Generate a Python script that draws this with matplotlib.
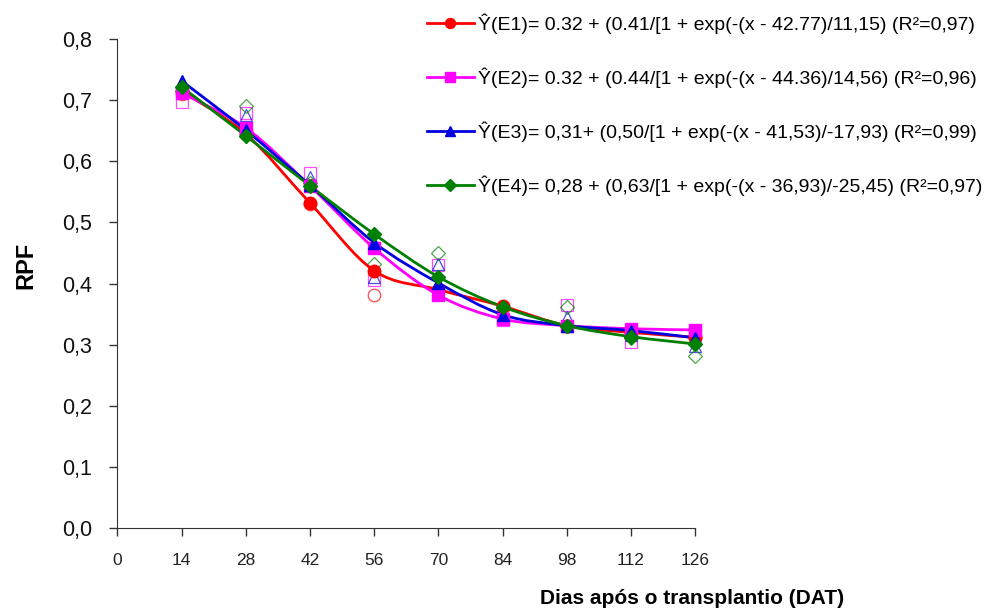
import numpy as np
import matplotlib.pyplot as plt
from matplotlib.path import Path
from matplotlib.patches import PathPatch
from matplotlib.lines import Line2D

plt.rcParams['font.family'] = ['Liberation Sans', 'DejaVu Sans']

# days after transplanting
dat = [14, 28, 42, 56, 70, 84, 98, 112, 126]
xticks = [0, 14, 28, 42, 56, 70, 84, 98, 112, 126]

# fitted values (filled markers, smooth lines)
e1_fit = [0.715, 0.645, 0.532, 0.421, 0.390, 0.363, 0.331, 0.320, 0.312]
e2_fit = [0.712, 0.655, 0.560, 0.458, 0.381, 0.342, 0.331, 0.326, 0.324]
e3_fit = [0.732, 0.651, 0.561, 0.467, 0.401, 0.349, 0.331, 0.323, 0.311]
e4_fit = [0.722, 0.642, 0.560, 0.481, 0.411, 0.362, 0.331, 0.313, 0.301]

# observed values (hollow markers)
e1_obs = [0.710, 0.650, 0.530, 0.381, 0.390, 0.360, 0.330, 0.318, 0.310]
e2_obs = [0.698, 0.679, 0.581, 0.406, 0.430, 0.340, 0.365, 0.305, 0.320]
e3_obs = [0.725, 0.676, 0.575, 0.410, 0.432, 0.348, 0.345, 0.315, 0.297]
e4_obs = [0.715, 0.690, 0.565, 0.432, 0.450, 0.360, 0.362, 0.310, 0.282]

labels = [
    'Ŷ(E1)= 0.32 + (0.41/[1 + exp(-(x - 42.77)/11,15) (R²=0,97)',
    'Ŷ(E2)= 0.32 + (0.44/[1 + exp(-(x - 44.36)/14,56) (R²=0,96)',
    'Ŷ(E3)= 0,31+ (0,50/[1 + exp(-(x - 41,53)/-17,93) (R²=0,99)',
    'Ŷ(E4)= 0,28 + (0,63/[1 + exp(-(x - 36,93)/-25,45) (R²=0,97)',
]
colors = ['#ff0000', '#ff00ff', '#0000e0', '#008000']
markers = ['o', 's', '^', 'D']
msizes = [9, 9, 9, 7.5]


def smooth_path(x, y):
    # Excel-like smoothed line: cubic Bezier segments through the points
    pts = np.column_stack([x, y]).astype(float)
    n = len(pts)
    verts = [pts[0]]
    codes = [Path.MOVETO]
    for i in range(n - 1):
        p0 = pts[i - 1] if i > 0 else pts[i]
        p1 = pts[i]
        p2 = pts[i + 1]
        p3 = pts[i + 2] if i + 2 < n else pts[i + 1]
        verts += [p1 + (p2 - p0) / 6, p2 - (p3 - p1) / 6, p2]
        codes += [Path.CURVE4] * 3
    return Path(verts, codes)


fig = plt.figure(figsize=(10.03, 6.13), dpi=100)
ax = fig.add_axes([0.117, 0.139, 0.576, 0.797])

fits = [e1_fit, e2_fit, e3_fit, e4_fit]
obs = [e1_obs, e2_obs, e3_obs, e4_obs]

for yo, c, m, ms in zip(obs, colors, markers, msizes):
    ax.plot(dat, yo, linestyle='none', marker=m, markersize=ms,
            markerfacecolor='none', markeredgecolor=c, markeredgewidth=0.9,
            alpha=0.7, zorder=2, clip_on=False)

for yf, c, m, ms in zip(fits, colors, markers, msizes):
    ax.add_patch(PathPatch(smooth_path(dat, yf), facecolor='none',
                           edgecolor=c, lw=2, zorder=3, clip_on=False))
    ax.plot(dat, yf, linestyle='none', marker=m, markersize=ms,
            color=c, zorder=4, clip_on=False)

ax.set_xlim(0, 126)
ax.set_ylim(0, 0.8)
ax.set_xticks(xticks)
ax.set_xticklabels([str(v) for v in xticks], fontsize=12.5)
ax.set_yticks(np.arange(0, 0.81, 0.1))
ax.set_yticklabels([f'{v:.1f}'.replace('.', ',') for v in np.arange(0, 0.81, 0.1)],
                   fontsize=15.5)
ax.tick_params(axis='both', direction='out', length=6, width=1, colors='#333333')
ax.tick_params(axis='x', pad=12, labelcolor='#222222')
ax.tick_params(axis='y', pad=12, labelcolor='#111111')
for s in ['top', 'right']:
    ax.spines[s].set_visible(False)
for s in ['left', 'bottom']:
    ax.spines[s].set_color('#333333')

fig.text(0.026, 0.567, 'RPF', rotation=90, fontsize=17, fontweight='bold',
         ha='center', va='center')
fig.text(0.69, 0.024, 'Dias após o transplantio (DAT)', fontsize=15,
         fontweight='bold', ha='center', va='center')

handles = [Line2D([0], [0], color=c, lw=2, marker=m, markersize=ms * 0.8)
           for c, m, ms in zip(colors, markers, msizes)]
fig.legend(handles, labels, loc='upper left', bbox_to_anchor=(0.4257, 0.978),
           frameon=False, handlelength=2.4, handletextpad=0.2,
           labelspacing=1.72, borderpad=0, borderaxespad=0,
           prop={'size': 14})

fig.savefig('out.png', dpi=100)
